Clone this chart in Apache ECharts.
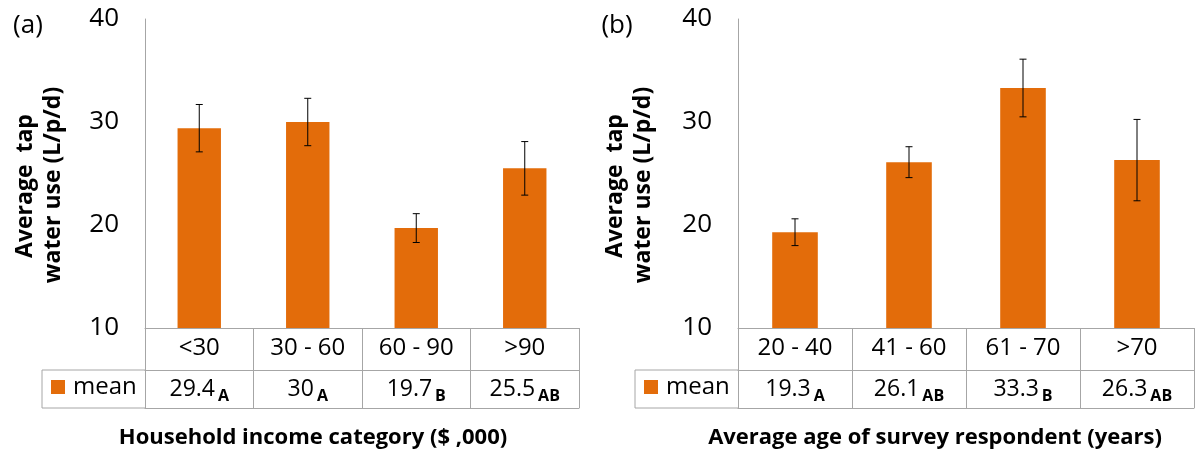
<!DOCTYPE html>
<html>
<head>
<meta charset="utf-8">
<script src="https://cdn.jsdelivr.net/npm/echarts@6/dist/echarts.min.js"></script>
<style>
html,body{margin:0;padding:0;background:#fff;}
#c{width:1197px;height:457px;}
</style>
</head>
<body>
<div id="c"></div>
<script>
// ---- data ----
const catsA = ['<30', '30 - 60', '60 - 90', '>90'];
const meanA = [29.4, 30, 19.7, 25.5];
const errA  = [2.3, 2.3, 1.4, 2.6];
const grpA  = ['A', 'A', 'B', 'AB'];

const catsB = ['20 - 40', '41 - 60', '61 - 70', '>70'];
const meanB = [19.3, 26.1, 33.3, 26.3];
const errB  = [1.3, 1.5, 2.8, 3.95];
const grpB  = ['A', 'AB', 'B', 'AB'];

const yMin = 10, yMax = 40, yStep = 10;
const seriesName = 'mean';
const titleA = 'Household income category ($ ,000)';
const titleB = 'Average age of survey respondent (years)';
const yTitle1 = 'Average  tap';
const yTitle2 = 'water use (L/p/d)';

// ---- style ----
const FONT = '"Open Sans", "DejaVu Sans", sans-serif';
const ORANGE = '#E36C0A';
const GRID_GRAY = '#A6A6A6';

const chart = echarts.init(document.getElementById('c'), null, {renderer: 'canvas'});

const richVal = {
  v: {fontSize: 23, fontFamily: FONT, color: '#000', lineHeight: 30, verticalAlign: 'middle'},
  s: {fontSize: 16, fontFamily: FONT, fontWeight: 'bold', color: '#000', lineHeight: 10, verticalAlign: 'bottom', padding: [0, 0, 0, 3]}
};

function panelAxes(gi, cats, means, grps) {
  return [
    { // category row
      type: 'category', gridIndex: gi, data: cats, position: 'bottom',
      axisLine: {show: true, lineStyle: {color: GRID_GRAY, width: 1}},
      axisTick: {show: true, interval: 0, length: 80, lineStyle: {color: GRID_GRAY, width: 1}},
      axisLabel: {interval: 0, fontSize: 24, fontFamily: FONT, color: '#000', margin: 8},
      splitLine: {show: false}
    },
    { // value row
      type: 'category', gridIndex: gi, data: cats, position: 'bottom', offset: 42,
      axisLine: {show: true, lineStyle: {color: GRID_GRAY, width: 1}},
      axisTick: {show: false},
      axisLabel: {
        interval: 0, margin: 4,
        formatter: function (val, idx) { return '{v|' + means[idx] + '}{s|' + grps[idx] + '}'; },
        rich: richVal
      },
      splitLine: {show: false}
    },
    { // bottom line of table
      type: 'category', gridIndex: gi, data: cats, position: 'bottom', offset: 80,
      axisLine: {show: true, lineStyle: {color: GRID_GRAY, width: 1}},
      axisTick: {show: false}, axisLabel: {show: false}, splitLine: {show: false}
    }
  ];
}

function yAx(gi) {
  return {
    type: 'value', gridIndex: gi, min: yMin, max: yMax, interval: yStep,
    axisLine: {show: true, lineStyle: {color: GRID_GRAY, width: 1}},
    axisTick: {show: false},
    splitLine: {show: false},
    axisLabel: {fontSize: 26, fontFamily: FONT, color: '#000', margin: 26}
  };
}

function errRender(params, api) {
  const x = api.value(0);
  const lo = api.coord([x, api.value(1)]);
  const hi = api.coord([x, api.value(2)]);
  const hw = 3.5;
  const st = {stroke: '#000', lineWidth: 1};
  return {
    type: 'group',
    children: [
      {type: 'line', shape: {x1: lo[0], y1: lo[1], x2: hi[0], y2: hi[1]}, style: st},
      {type: 'line', shape: {x1: hi[0] - hw, y1: hi[1], x2: hi[0] + hw, y2: hi[1]}, style: st},
      {type: 'line', shape: {x1: lo[0] - hw, y1: lo[1], x2: lo[0] + hw, y2: lo[1]}, style: st}
    ]
  };
}

function errData(means, errs) {
  return means.map((m, i) => [i, m - errs[i], m + errs[i]]);
}

function textEl(x, y, txt, size, weight, rot) {
  return {
    type: 'text', x: x, y: y, rotation: rot || 0,
    style: {text: txt, fontSize: size, fontWeight: weight || 'normal', fontFamily: FONT, fill: '#000',
            align: 'center', verticalAlign: 'middle'}
  };
}
function lineEl(x1, y1, x2, y2) {
  return {type: 'line', shape: {x1: x1, y1: y1, x2: x2, y2: y2}, style: {stroke: GRID_GRAY, lineWidth: 1}};
}

const legendText = {fontSize: 24, fontFamily: FONT, color: '#000', padding: [0, 0, 0, 3]};

const option = {
  backgroundColor: '#fff',
  animation: false,
  grid: [
    {left: 145, width: 434, top: 19, height: 309},
    {left: 738, width: 456, top: 19, height: 309}
  ],
  xAxis: [].concat(panelAxes(0, catsA, meanA, grpA), panelAxes(1, catsB, meanB, grpB)),
  yAxis: [yAx(0), yAx(1)],
  legend: [
    {left: 51, top: 375, padding: 0, itemWidth: 14, itemHeight: 14, itemGap: 0, selectedMode: false,
     data: [{name: seriesName, icon: 'rect'}], textStyle: legendText},
    {left: 644, top: 375, padding: 0, itemWidth: 14, itemHeight: 14, itemGap: 0, selectedMode: false,
     data: [{name: seriesName, icon: 'rect'}], textStyle: legendText}
  ],
  series: [
    {name: seriesName, type: 'bar', xAxisIndex: 0, yAxisIndex: 0, data: meanA, barWidth: '40%',
     itemStyle: {color: ORANGE}},
    {name: seriesName, type: 'bar', xAxisIndex: 3, yAxisIndex: 1, data: meanB, barWidth: '40%',
     itemStyle: {color: ORANGE}},
    {name: 'errA', type: 'custom', xAxisIndex: 0, yAxisIndex: 0, renderItem: errRender,
     encode: {x: 0, y: [1, 2]}, data: errData(meanA, errA), z: 5},
    {name: 'errB', type: 'custom', xAxisIndex: 3, yAxisIndex: 1, renderItem: errRender,
     encode: {x: 0, y: [1, 2]}, data: errData(meanB, errB), z: 5}
  ],
  graphic: [
    textEl(28, 26, '(a)', 26),
    textEl(617, 26, '(b)', 26),
    textEl(25, 186, yTitle1, 23, 'bold', Math.PI / 2),
    textEl(53, 185, yTitle2, 23, 'bold', Math.PI / 2),
    textEl(615, 186, yTitle1, 23, 'bold', Math.PI / 2),
    textEl(643, 185, yTitle2, 23, 'bold', Math.PI / 2),
    textEl(313, 438, titleA, 22, 'bold'),
    textEl(935, 438, titleB, 22, 'bold'),
    // legend cells of the data tables
    lineEl(42, 370, 145, 370), lineEl(42, 408, 145, 408), lineEl(42, 370, 42, 408),
    lineEl(635, 370, 738, 370), lineEl(635, 408, 738, 408), lineEl(635, 370, 635, 408)
  ]
};
chart.setOption(option);
</script>
</body>
</html>
